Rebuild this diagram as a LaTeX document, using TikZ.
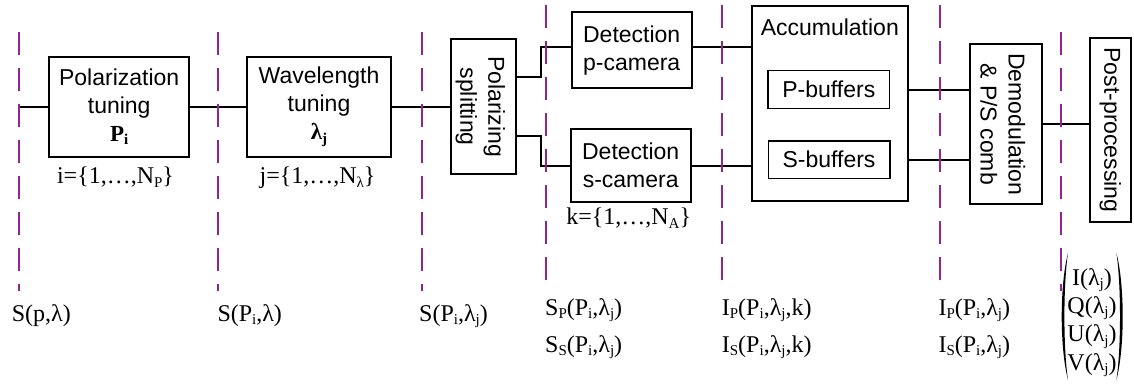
\documentclass[tikz,border=0pt]{standalone}
\usepackage{fontspec}
\setmainfont{Liberation Serif}
\newfontfamily\arialfont{Liberation Sans}
\usetikzlibrary{calc}
\definecolor{guide}{RGB}{148,36,148}
% lowered, reduced-size subscript in text
\newcommand{\sbs}[1]{\raisebox{-0.15em}{\fontsize{15}{15}\selectfont #1}}

\begin{document}
\begin{tikzpicture}[x=1pt,y=-1pt,
  box/.style={draw, line width=2.2pt, inner sep=0pt, align=center,
    font=\arialfont\fontsize{23}{28}\selectfont},
  inbox/.style={draw, line width=1.5pt, inner sep=0pt, align=center,
    font=\arialfont\fontsize{23}{28}\selectfont},
  btxt/.style={inner sep=0pt, align=center,
    font=\arialfont\fontsize{23}{28}\selectfont},
  wire/.style={line width=2pt},
  guideline/.style={draw=guide, line width=1.4pt, dash pattern=on 23pt off 13pt},
  lbl/.style={inner sep=0pt, anchor=base west, font=\fontsize{24}{28}\selectfont},
  idx/.style={inner sep=0pt, anchor=base, font=\fontsize{24}{28}\selectfont}
]
\useasboundingbox (0,0) rectangle (1134,388);

% processing blocks
\node[box, minimum width=139.7pt, minimum height=100pt] (pt) at (119.2,106.7)
  {Polarization\\tuning\\{\rmfamily\bfseries P\sbs{i}}};
\node[box, minimum width=144pt, minimum height=100pt] (wt) at (319,106.7)
  {Wavelength\\tuning\\{\rmfamily\bfseries λ\sbs{j}}};
\node[box, minimum width=65.3pt, minimum height=134.7pt] (pol) at (483.4,106.7) {};
\node[btxt, rotate=-90] at ($(pol.center)+(-3,0)$) {Polarizing\\splitting};
\node[box, minimum width=120pt, minimum height=76.3pt] (pcam) at (631.7,50.1)
  {Detection\\p-camera};
\node[box, minimum width=120pt, minimum height=72.4pt] (scam) at (630.7,165.5)
  {Detection\\s-camera};
\node[box, minimum width=156.3pt, minimum height=195.6pt] (accum) at (829.8,103.5) {};
\node[btxt] (acctitle) at (829.8,27.5) {Accumulation};
\node[inbox, minimum width=121.5pt, minimum height=37.6pt] (pbuf) at (828.8,89.5) {P-buffers};
\node[inbox, minimum width=121.5pt, minimum height=37.3pt] (sbuf) at (829,159.7) {S-buffers};
\node[box, minimum width=71.7pt, minimum height=159.7pt] (demod) at (1005.8,124.2) {};
\node[btxt, rotate=-90] at ($(demod.center)+(-3,0)$) {Demodulation\\\& P/S comb};
\node[box, minimum width=40.7pt, minimum height=183.4pt] (post) at (1110.3,130) {};
\node[btxt, rotate=-90] at (post.center) {Post-processing};

% index ranges under the blocks
\node[idx] (iidx) at (115.5,183.5) {i=\{1,…,N\sbs{P}\}};
\node[idx] (jidx) at (317.5,183.5) {j=\{1,…,N\sbs{λ}\}};
\node[idx] (kidx) at (628.7,224.5) {k=\{1,…,N\sbs{A}\}};

% signal path
\coordinate (src) at (19,106.7);
\draw[wire] (src) -- (pt.west);
\draw[wire] (pt.east) -- (wt.west);
\draw[wire] (wt.east) -- (pol.west);
\path ($(pcam.west)+(0,-3)$) coordinate (pw) ($(pcam.east)+(0,-3)$) coordinate (pe);
\draw[wire] ($(pol.east)+(0,-30)$) -- ++(24,0) |- (pw);
\draw[wire] ($(pol.east)+(0,29.3)$) -- ++(24,0) |- (scam.west);
\draw[wire] (pe) -- (pe -| accum.west);
\draw[wire] (scam.east) -- (scam.east -| accum.west);
\draw[wire] (accum.east |- pbuf) -- (demod.west |- pbuf);
\draw[wire] (accum.east |- sbuf) -- (demod.west |- sbuf);
\draw[wire] (demod.east) -- (demod.east -| post.west);

% stage boundaries
\foreach \gx/\gt/\gb in {19/31.7/291, 218/31.7/291, 422/31.7/291, 546/5/282,
                          722/5/282, 940/5/282, 1061/31.7/291}
  \draw[guideline] (\gx,\gt) -- (\gx,\gb);

% signals at each stage
\node[lbl] (s0) at (11.7,321) {S(p,λ)};
\node[lbl] (s1) at (217.3,321) {S(P\sbs{i},λ)};
\node[lbl] (s2) at (419,321) {S(P\sbs{i},λ\sbs{j})};
\node[lbl] (s3p) at (545,315) {S\sbs{P}(P\sbs{i},λ\sbs{j})};
\node[lbl] (s3s) at (545,352) {S\sbs{S}(P\sbs{i},λ\sbs{j})};
\node[lbl] (s4p) at (721.7,315) {I\sbs{P}(P\sbs{i},λ\sbs{j},k)};
\node[lbl] (s4s) at (721.7,352) {I\sbs{S}(P\sbs{i},λ\sbs{j},k)};
\node[lbl] (s5p) at (938.3,315) {I\sbs{P}(P\sbs{i},λ\sbs{j})};
\node[lbl] (s5s) at (938.3,352) {I\sbs{S}(P\sbs{i},λ\sbs{j})};

% Stokes vector
\node[idx] (stI) at (1092,285) {I(λ\sbs{j})};
\node[idx] (stQ) at (1092,313.3) {Q(λ\sbs{j})};
\node[idx] (stU) at (1092,341.6) {U(λ\sbs{j})};
\node[idx] (stV) at (1092,370) {V(λ\sbs{j})};
\fill (1068,253) .. controls (1059.6,285) and (1059.6,348) .. (1068,380)
      .. controls (1063.2,348) and (1063.2,285) .. (1068,253) -- cycle;
\fill (1116.4,253) .. controls (1124.8,285) and (1124.8,348) .. (1116.4,380)
      .. controls (1121.2,348) and (1121.2,285) .. (1116.4,253) -- cycle;
\end{tikzpicture}
\end{document}
